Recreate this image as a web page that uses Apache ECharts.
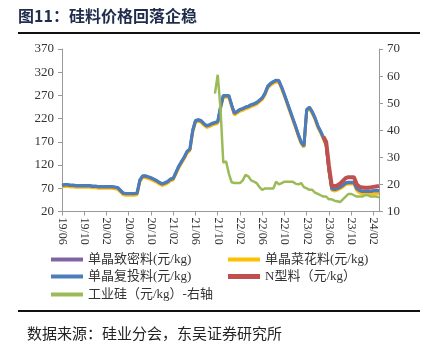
<!DOCTYPE html>
<html>
<head>
<meta charset="utf-8">
<script src="https://cdn.jsdelivr.net/npm/echarts@6/dist/echarts.min.js"></script>
<style>
  html, body { margin: 0; padding: 0; background: #fff; }
  #chart { width: 428px; height: 350px; }
</style>
</head>
<body>
<div id="chart"></div>
<script>
// 半月一个点，19/06 上半月 起，到 24/03 上半月
const tickLabels = ['19/06', '19/10', '20/02', '20/06', '20/10', '21/02', '21/06', '21/10',
  '22/02', '22/06', '22/10', '23/02', '23/06', '23/10', '24/02'];
const categories = [];
for (let i = 0; i < 115; i++) {
  const m = 5 + Math.floor(i / 2);            // 0-based month from 2019-01
  const yy = 19 + Math.floor(m / 12);
  const mm = (m % 12) + 1;
  categories.push(yy + '/' + String(mm).padStart(2, '0') + (i % 2 ? '下' : '上'));
}

// 单晶复投料 (元/kg)
const fuTou = [77,78,78,77,77,76,76,76,76,76, 76,75,75,74,74,74,74,74,74,73,
  72,66,60,59,59,59,59,60,88,97, 97,95,93,90,87,83,80,82,85,90,
  92,105,118,128,138,150,155,195,216,218, 216,210,205,207,210,212,214,245,270,270,
  270,250,232,236,240,242,245,247,250,252, 255,260,265,275,290,296,300,303,302,288,
  272,255,238,221,204,186,170,162,240,245, 235,222,205,193,180,165,110,70,68,70,
  73,77,82,83,83,83,70,66,64,64, 64,64,65,65,65];

// 单晶致密料 (元/kg)
const miMi = [76,77,77,76,76,75,75,75,75,75, 75,74,74,73,73,73,73,73,73,72,
  71,65,59,58,58,58,58,59,87,96, 96,94,92,89,86,82,79,81,84,89,
  91,104,117,127,137,149,154,194,215,217, 215,209,204,206,209,211,213,244,269,269,
  269,249,231,235,239,241,244,246,249,251, 254,259,264,274,289,295,299,302,301,287,
  271,254,237,220,203,185,169,161,239,244, 234,221,204,192,179,164,109,69,67,69,
  72,76,81,82,82,82,69,65,63,63, 63,63,64,64,64];

// 单晶菜花料 (元/kg)
const caiHua = [73,74,74,73,73,72,72,72,72,72, 72,71,71,70,70,70,70,70,70,69,
  68,62,56,55,55,55,55,56,84,93, 93,91,89,86,83,79,76,78,81,86,
  88,101,114,124,134,146,151,190,212,214, 212,206,201,203,206,208,210,241,266,266,
  266,246,228,232,236,238,241,243,246,248, 251,256,261,271,286,292,296,299,298,284,
  268,251,234,217,200,182,166,158,236,241, 231,218,201,189,176,161,106,66,64,66,
  69,73,78,79,79,79,65,60,58,58, 58,58,58,58,58];

// N型料 (元/kg)，从 23/05 下半月 起
const nStart = 94;
const nType = [181,170,118,76,74,76,80,86,92,94, 94,94,78,73,72,71,71,72,73,74, 75];

// 工业硅 (元/kg)，右轴，从 21/09 下半月 起
const siStart = 55;
const gongYeGui = [53.5,60.5,48,28,28.5,24,20.8,20.5,20.5,20.5,
  21.5,23.5,23,21.5,21,20.5,19,18,18.5,18.5,
  18.5,18.5,21,20,20.5,21,21,21,21,20.3,
  20,20.5,19,18.5,18,18,17,16.5,16,15.5,
  15.5,14.5,14.5,14,13.8,13.5,14.5,15.5,16.5,16.5,
  16,15.5,15.5,15.5,16,16,15.5,15.5,15.5,15.2];

const pad = (start, arr) => new Array(start).fill(null).concat(arr);

const serif = '"Liberation Serif", "Times New Roman", "Noto Sans CJK SC", serif';
const names = ['单晶致密料(元/kg)', '单晶菜花料(元/kg)', '单晶复投料(元/kg)', 'N型料（元/kg）', '工业硅（元/kg）-右轴'];
const colors = ['#8064A2', '#FFC000', '#4A7EBB', '#C0504D', '#9BBB59'];

const chart = echarts.init(document.getElementById('chart'));

const legendAt = (name, left, top, h) => ({
  data: [name],
  left: left,
  top: top,
  itemWidth: 32,
  itemHeight: h,
  itemGap: 4,
  icon: 'rect',
  padding: 0,
  selectedMode: false,
  textStyle: { fontFamily: serif, fontSize: 13, color: '#333' }
});

const line = (name, data, color, width, yIdx, z) => ({
  name: name,
  type: 'line',
  data: data,
  yAxisIndex: yIdx,
  symbol: 'none',
  connectNulls: false,
  z: z,
  lineStyle: { color: color, width: width },
  itemStyle: { color: color }
});

chart.setOption({
  animation: false,
  grid: { left: 62, right: 49, top: 49, bottom: 138.5, containLabel: false },
  legend: [
    legendAt(names[0], 51, 253, 4),
    legendAt(names[1], 228, 253, 4),
    legendAt(names[2], 51, 270, 4),
    legendAt(names[3], 228, 270, 5),
    legendAt(names[4], 51, 288, 4)
  ],
  xAxis: {
    type: 'category',
    data: categories,
    boundaryGap: false,
    axisLine: { lineStyle: { color: '#999', width: 1 } },
    axisTick: { interval: 7, length: 4, lineStyle: { color: '#999' } },
    axisLabel: {
      interval: 7,
      rotate: -90,
      margin: 6,
      fontFamily: serif,
      fontSize: 12,
      color: '#333',
      formatter: (v, i) => tickLabels[i / 8] || ''
    },
    splitLine: { show: false }
  },
  yAxis: [
    {
      type: 'value',
      min: 20, max: 370, interval: 50,
      axisLine: { show: true, lineStyle: { color: '#999' } },
      axisTick: { show: true, length: 4, lineStyle: { color: '#999' } },
      axisLabel: { fontFamily: serif, fontSize: 13, color: '#333', margin: 8 },
      splitLine: { show: false }
    },
    {
      type: 'value',
      min: 10, max: 70, interval: 10,
      position: 'right',
      axisLine: { show: true, lineStyle: { color: '#999' } },
      axisTick: { show: true, length: 4, lineStyle: { color: '#999' } },
      axisLabel: { fontFamily: serif, fontSize: 13, color: '#333', margin: 8 },
      splitLine: { show: false }
    }
  ],
  series: [
    line(names[1], caiHua, colors[1], 3, 0, 2),
    line(names[0], miMi, colors[0], 3, 0, 3),
    line(names[2], fuTou, colors[2], 3, 0, 4),
    line(names[3], pad(nStart, nType), colors[3], 4, 0, 5),
    line(names[4], pad(siStart, gongYeGui), colors[4], 2.5, 1, 6)
  ],
  graphic: [
    {
      type: 'text', left: 18, top: 8,
      style: { text: '图11：硅料价格回落企稳', fontSize: 16, fontWeight: 'bold',
        fontFamily: '"Noto Sans CJK SC", sans-serif', fill: '#1F2D4D' }
    },
    { type: 'rect', shape: { x: 18, y: 32, width: 402, height: 2 }, style: { fill: '#111' } },
    { type: 'rect', shape: { x: 18, y: 310, width: 402, height: 2 }, style: { fill: '#111' } },
    {
      type: 'text', left: 27, top: 326,
      style: { text: '数据来源：硅业分会，东吴证券研究所', fontSize: 15,
        fontFamily: '"Noto Sans CJK SC", sans-serif', fill: '#222' }
    }
  ]
});
</script>
</body>
</html>
